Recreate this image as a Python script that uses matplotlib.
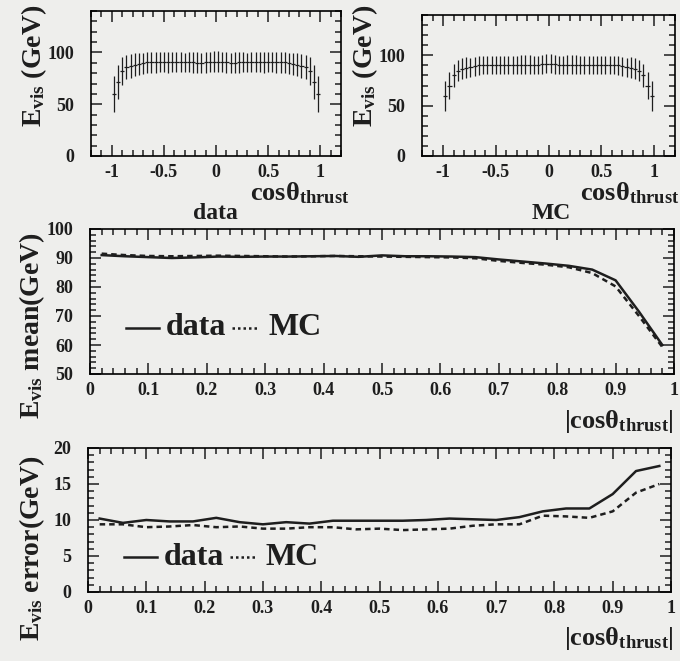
import numpy as np
import matplotlib
matplotlib.use("Agg")
import matplotlib.pyplot as plt
from matplotlib.ticker import MultipleLocator

plt.rcParams.update({
    "font.family": "Liberation Serif", "font.weight": "bold",
    "mathtext.fontset": "custom", "mathtext.rm": "Liberation Serif:bold",
    "mathtext.it": "Liberation Serif:bold", "mathtext.default": "rm",
    "axes.linewidth": 1.2, "text.color": "#1e1e1e",
    "xtick.color": "#1e1e1e", "ytick.color": "#1e1e1e",
})

# |cos theta_thrust| bin centres (0.04 wide)
acos = [0.02, 0.06, 0.10, 0.14, 0.18, 0.22, 0.26, 0.30, 0.34, 0.38, 0.42, 0.46, 0.50,
        0.54, 0.58, 0.62, 0.66, 0.70, 0.74, 0.78, 0.82, 0.86, 0.90, 0.94, 0.98]
mean_data = [91.0, 90.6, 90.3, 90.0, 90.2, 90.5, 90.4, 90.5, 90.5, 90.6, 90.7, 90.4, 90.9,
             90.6, 90.6, 90.5, 90.3, 89.5, 88.8, 88.1, 87.3, 86.0, 82.3, 71.5, 60.0]
mean_mc = [91.5, 91.0, 90.7, 90.6, 90.7, 90.8, 90.7, 90.6, 90.5, 90.6, 90.7, 90.6, 90.5,
           90.4, 90.3, 90.2, 89.9, 89.0, 88.3, 87.7, 86.8, 84.8, 80.2, 70.0, 59.3]
err_data = [10.2, 9.6, 10.0, 9.8, 9.8, 10.3, 9.7, 9.4, 9.7, 9.5, 9.9, 9.9, 9.9,
            9.9, 10.0, 10.2, 10.1, 10.0, 10.4, 11.2, 11.6, 11.6, 13.6, 16.8, 17.5]
err_mc = [9.4, 9.4, 9.0, 9.1, 9.3, 9.0, 9.1, 8.8, 8.8, 9.0, 9.0, 8.7, 8.8,
          8.6, 8.7, 8.8, 9.2, 9.4, 9.4, 10.6, 10.5, 10.3, 11.2, 13.8, 15.0]

# signed cos theta_thrust bins for the top panels (symmetric folding of the above)
cos_full = np.concatenate([-np.array(acos[::-1]), acos])
top_sets = {
    "data": (np.concatenate([mean_data[::-1], mean_data]), np.concatenate([err_data[::-1], err_data])),
    "MC": (np.concatenate([mean_mc[::-1], mean_mc]), np.concatenate([err_mc[::-1], err_mc])),
}

BG = "#eeeeec"; K = "#1e1e1e"
fig = plt.figure(figsize=(6.8, 6.61), dpi=100, facecolor=BG)


def px(l, t, r, b):
    return [l / 680, 1 - b / 661, (r - l) / 680, (b - t) / 661]


def style(a, xmaj, xmin, ymaj, ymin):
    a.set_facecolor(BG)
    a.xaxis.set_major_locator(MultipleLocator(xmaj)); a.xaxis.set_minor_locator(MultipleLocator(xmin))
    a.yaxis.set_major_locator(MultipleLocator(ymaj)); a.yaxis.set_minor_locator(MultipleLocator(ymin))
    a.tick_params(which="both", direction="in", top=True, right=True, labelsize=13, width=1.1)
    a.tick_params(which="major", length=8)
    a.tick_params(which="minor", length=4)
    a.tick_params(axis="y", pad=12); a.tick_params(axis="x", pad=6)


# ---- top panels: E_vis vs cos(theta_thrust) ----
for (l, t, r, b), name, xl, ttl_x, yl_x in [((91, 11, 341, 156), "data", 250, 215, 34),
                                            ((422, 15, 675, 156), "MC", 580, 551, 365)]:
    a = fig.add_axes(px(l, t, r, b))
    m, e = top_sets[name]
    a.errorbar(cos_full, m, yerr=e, xerr=0.02, fmt="none", ecolor=K, elinewidth=0.9)
    a.set_xlim(-1.2, 1.2); a.set_ylim(0, 140)
    style(a, 0.5, 0.1, 50, 10)
    a.set_xticks([-1, -0.5, 0, 0.5, 1]); a.set_xticklabels(["-1", "-0.5", "0", "0.5", "1"])
    fig.text(xl / 680, 1 - 200 / 661, r"cos$\theta_{thrust}$", fontsize=19, va="baseline")
    fig.text(ttl_x / 680, 1 - 219 / 661, name, fontsize=17, ha="center", va="baseline")
    fig.text(yl_x / 680, 1 - 66 / 661, r"E$_{vis}$ (GeV)", fontsize=20, rotation=90,
             ha="center", va="center")

# ---- middle: mean ; bottom: error ----
for (l, t, r, b), yd, ym, ylim, ymaj, ymin, ylab, ly, ylab_y, xlab_y in [
        ((90, 229, 674, 374), mean_data, mean_mc, (50, 100), 10, 2, "mean(GeV)", 0.32, 325, 428),
        ((88, 448, 671, 592), err_data, err_mc, (0, 20), 5, 1, "error(GeV)", 0.24, 548, 645)]:
    a = fig.add_axes(px(l, t, r, b))
    a.plot(acos, yd, "-", color=K, lw=1.8)
    a.plot(acos, ym, "--", color=K, lw=1.8, dashes=(2.2, 1.6))
    a.set_xlim(0, 1); a.set_ylim(*ylim)
    style(a, 0.1, 0.02, ymaj, ymin)
    a.set_xticks(np.arange(0, 1.01, 0.1)); a.set_xticklabels(["0", "0.1", "0.2", "0.3", "0.4", "0.5",
                                                              "0.6", "0.7", "0.8", "0.9", "1"])
    # hand-drawn legend, as in the original
    a.plot([0.062, 0.118], [ly, ly], "-", color=K, lw=1.8, transform=a.transAxes)
    a.text(0.13, ly, "data", fontsize=23, va="center", transform=a.transAxes)
    a.plot([0.244, 0.29], [ly, ly], "-", color=K, lw=1.8, dashes=(1.0, 1.2), transform=a.transAxes)
    a.text(0.305, ly, "MC", fontsize=23, va="center", transform=a.transAxes)
    fig.text(32 / 680, 1 - ylab_y / 661, r"E$_{vis}$ " + ylab, fontsize=20, rotation=90,
             ha="center", va="center")
    fig.text(674 / 680, 1 - xlab_y / 661, r"|cos$\theta_{thrust}$|", fontsize=19, ha="right",
             va="baseline")

fig.savefig("out.png", dpi=100, facecolor=BG)
